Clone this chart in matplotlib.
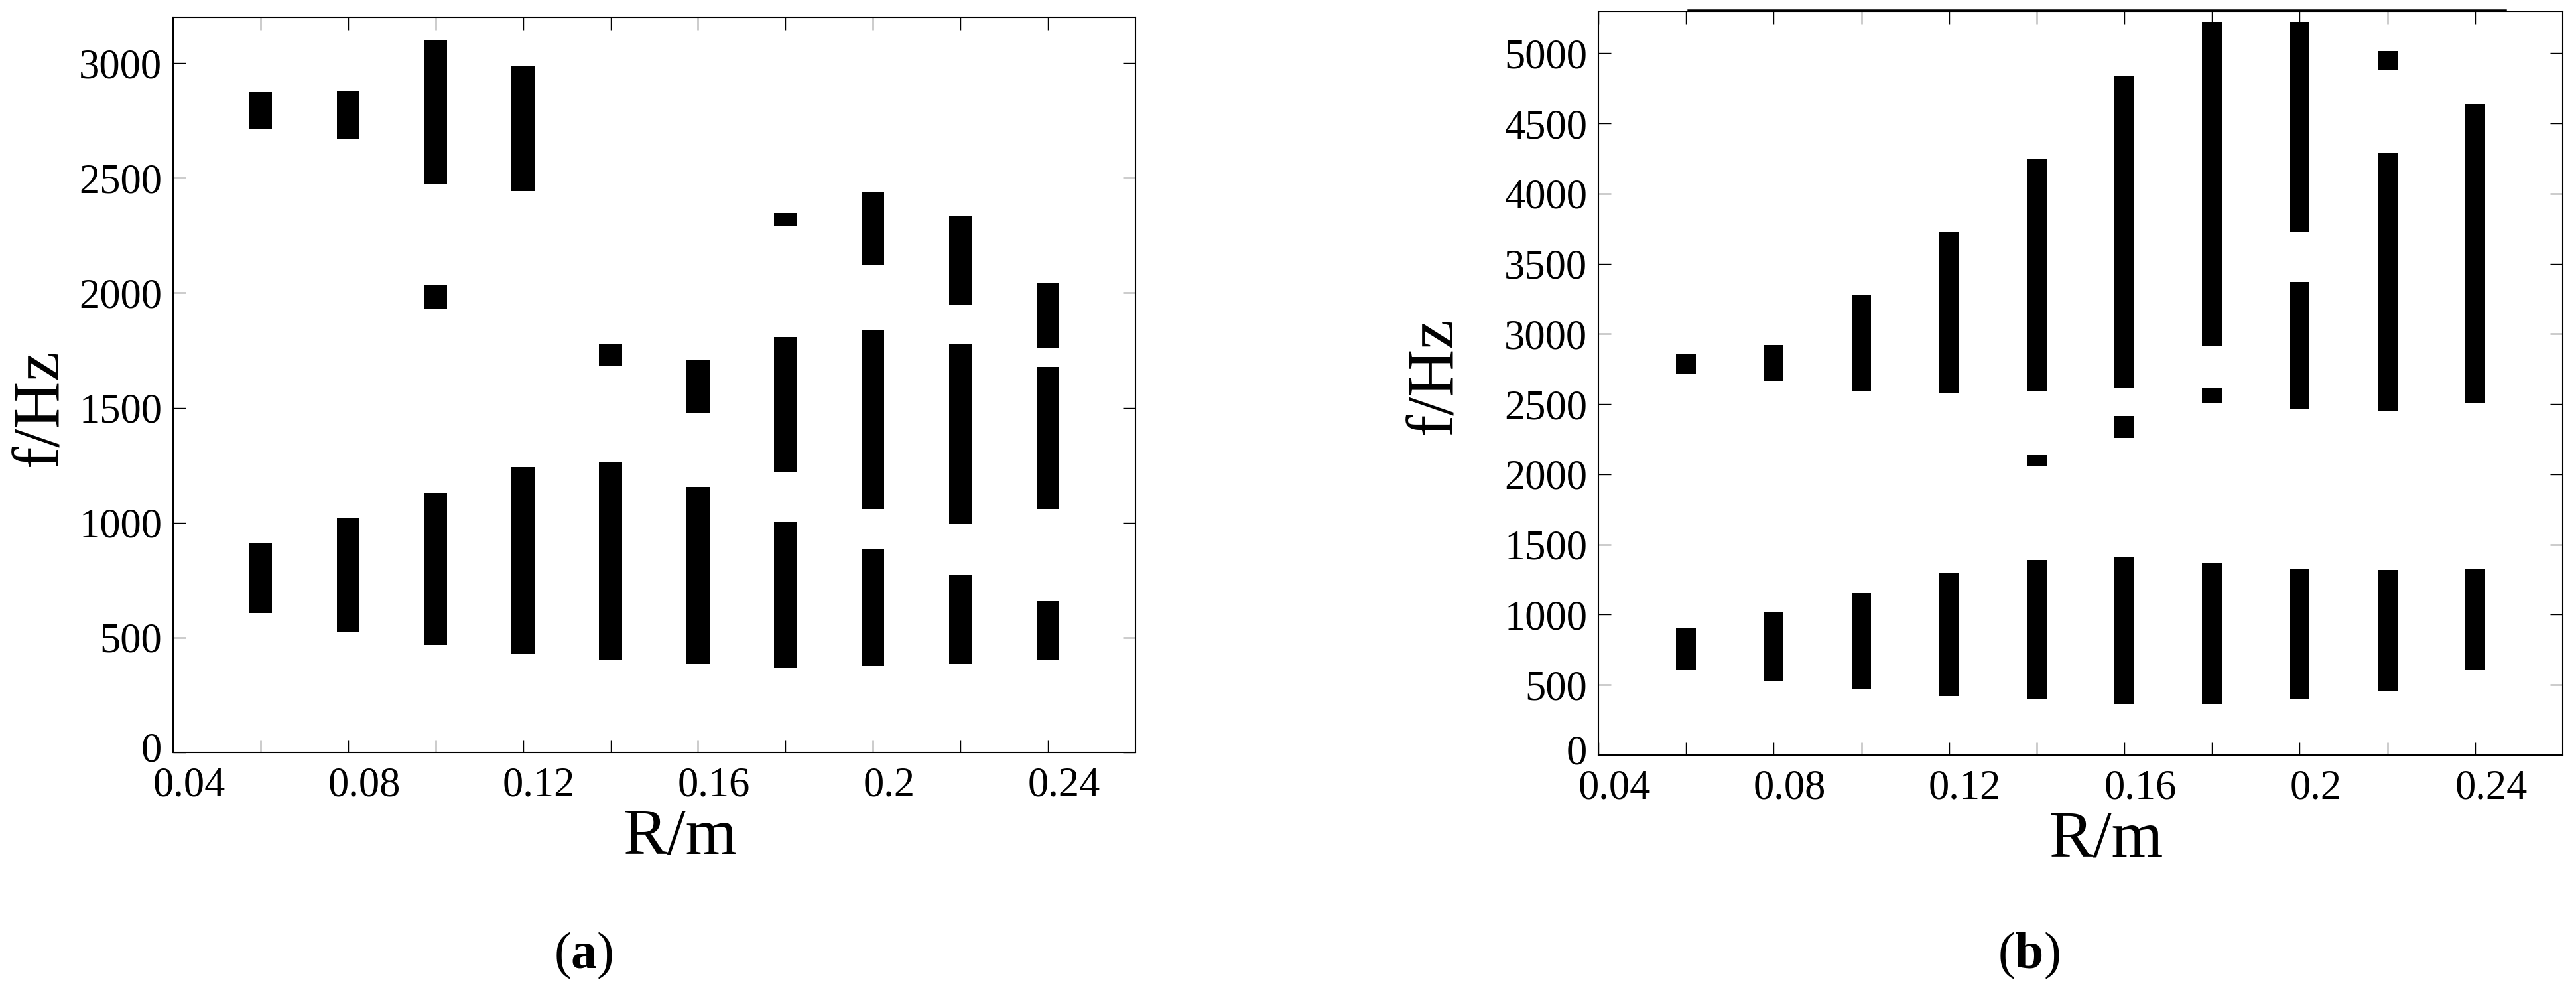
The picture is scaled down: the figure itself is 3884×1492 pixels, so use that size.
import matplotlib
matplotlib.use("Agg")
import matplotlib.pyplot as plt
from matplotlib.transforms import ScaledTranslation

plt.rcParams['font.family'] = ['Liberation Serif', 'DejaVu Serif']
plt.rcParams['mathtext.fontset'] = 'custom'
plt.rcParams['mathtext.rm'] = 'Liberation Serif'
plt.rcParams['mathtext.bf'] = 'Liberation Serif:bold'

# ---------------- data: panel (a) ----------------
R_all = [0.06, 0.08, 0.10, 0.12, 0.14, 0.16, 0.18, 0.20, 0.22, 0.24]

a_low_R = R_all
a_low_lo = [606, 527, 467, 429, 402, 383, 366, 378, 383, 402]
a_low_hi = [910, 1020, 1128, 1243, 1266, 1156, 1003, 888, 771, 658]

a_mid_R = [0.14, 0.16, 0.18, 0.20, 0.22, 0.24]
a_mid_lo = [1683, 1475, 1223, 1061, 996, 1061]
a_mid_hi = [1779, 1707, 1808, 1836, 1779, 1678]

a_up_R = [0.06, 0.08, 0.10, 0.12, 0.18, 0.20, 0.22, 0.24]
a_up_lo = [2715, 2672, 2471, 2442, 2289, 2124, 1946, 1762]
a_up_hi = [2873, 2880, 3103, 2990, 2349, 2437, 2337, 2045]

a_ext_R = [0.10]
a_ext_lo = [1930]
a_ext_hi = [2033]

# ---------------- data: panel (b) ----------------
b_low_R = R_all
b_low_lo = [603, 524, 469, 423, 395, 364, 364, 395, 454, 610]
b_low_hi = [908, 1017, 1154, 1299, 1389, 1408, 1365, 1330, 1318, 1330]

b_mid_R = [0.14, 0.16, 0.18, 0.20]
b_mid_lo = [2062, 2261, 2508, 2469]
b_mid_hi = [2140, 2414, 2613, 3372]

b_up_R = R_all
b_up_lo = [2719, 2668, 2590, 2582, 2590, 2617, 2919, 3728, 2453, 2508]
b_up_hi = [2856, 2923, 3279, 3725, 4245, 4840, 5222, 5222, 4292, 4636]

b_ext_R = [0.22]
b_ext_lo = [4884]
b_ext_hi = [5014]

x_ticks = [0.04, 0.06, 0.08, 0.10, 0.12, 0.14, 0.16, 0.18, 0.20, 0.22, 0.24]
x_ticklabels = ['0.04', '', '0.08', '', '0.12', '', '0.16', '', '0.2', '', '0.24']
a_yticks = [0, 500, 1000, 1500, 2000, 2500, 3000]
b_yticks = [0, 500, 1000, 1500, 2000, 2500, 3000, 3500, 4000, 4500, 5000]

W, H = 3884, 1492
fig = plt.figure(figsize=(W / 100, H / 100), dpi=100)

def fx(px):
    return px / W

def fy(py):
    return 1 - py / H

ax1 = fig.add_axes([fx(261), fy(1134), fx(1712 - 261), (1134 - 26) / H])
ax2 = fig.add_axes([fx(2410), fy(1138), fx(3864 - 2410), (1138 - 17) / H])

def draw(ax, groups, width, ylim, yticks):
    for R, lo, hi in groups:
        ax.bar(R, [h - l for l, h in zip(lo, hi)], bottom=lo, width=width,
               color='black', edgecolor='none', linewidth=0)
    ax.set_xlim(0.04, 0.26)
    ax.set_ylim(*ylim)
    ax.set_xticks(x_ticks)
    ax.set_xticklabels(x_ticklabels)
    ax.set_yticks(yticks)
    ax.set_yticklabels([str(v) for v in yticks])
    ax.tick_params(direction='in', length=14, width=1, top=True, right=True,
                   labelsize=45, colors='black')
    ax.tick_params(axis='x', pad=19)
    ax.tick_params(axis='y', pad=12)
    for lab in ax.get_xticklabels():
        lab.set_transform(lab.get_transform() +
                          ScaledTranslation(0.24, 0.05, fig.dpi_scale_trans))
    ylabs = ax.get_yticklabels()
    ylabs[0].set_transform(ylabs[0].get_transform() +
                           ScaledTranslation(0, 0.09, fig.dpi_scale_trans))
    for s in ax.spines.values():
        s.set_linewidth(1.5)
        s.set_color('black')

draw(ax1, [(a_low_R, a_low_lo, a_low_hi), (a_mid_R, a_mid_lo, a_mid_hi),
           (a_up_R, a_up_lo, a_up_hi), (a_ext_R, a_ext_lo, a_ext_hi)],
     0.0052, (0, 3200), a_yticks)
draw(ax2, [(b_low_R, b_low_lo, b_low_hi), (b_mid_R, b_mid_lo, b_mid_hi),
           (b_up_R, b_up_lo, b_up_hi), (b_ext_R, b_ext_lo, b_ext_hi)],
     0.0045, (0, 5300), b_yticks)
ax2.spines['top'].set_linewidth(0.8)
ax2.plot([0.0605, 0.247], [1.002, 1.002], color='black', lw=1.8,
         transform=ax2.get_xaxis_transform(), clip_on=False)

# axis labels
fig.text(fx(62), fy(614), 'f/Hz', rotation=90, ha='center', va='center', fontsize=72)
fig.text(fx(2164), fy(566), 'f/Hz', rotation=90, ha='center', va='center', fontsize=72)
fig.text(fx(1025), fy(1287), 'R/m', ha='center', va='baseline', fontsize=72)
fig.text(fx(3175), fy(1290), 'R/m', ha='center', va='baseline', fontsize=72)

# captions
fig.text(fx(880), fy(1440), r'($\mathbf{a}$)', ha='center', va='center', fontsize=56)
fig.text(fx(3059), fy(1440), r'($\mathbf{b}$)', ha='center', va='center', fontsize=56)

fig.savefig('out.png', dpi=100, facecolor='white')
